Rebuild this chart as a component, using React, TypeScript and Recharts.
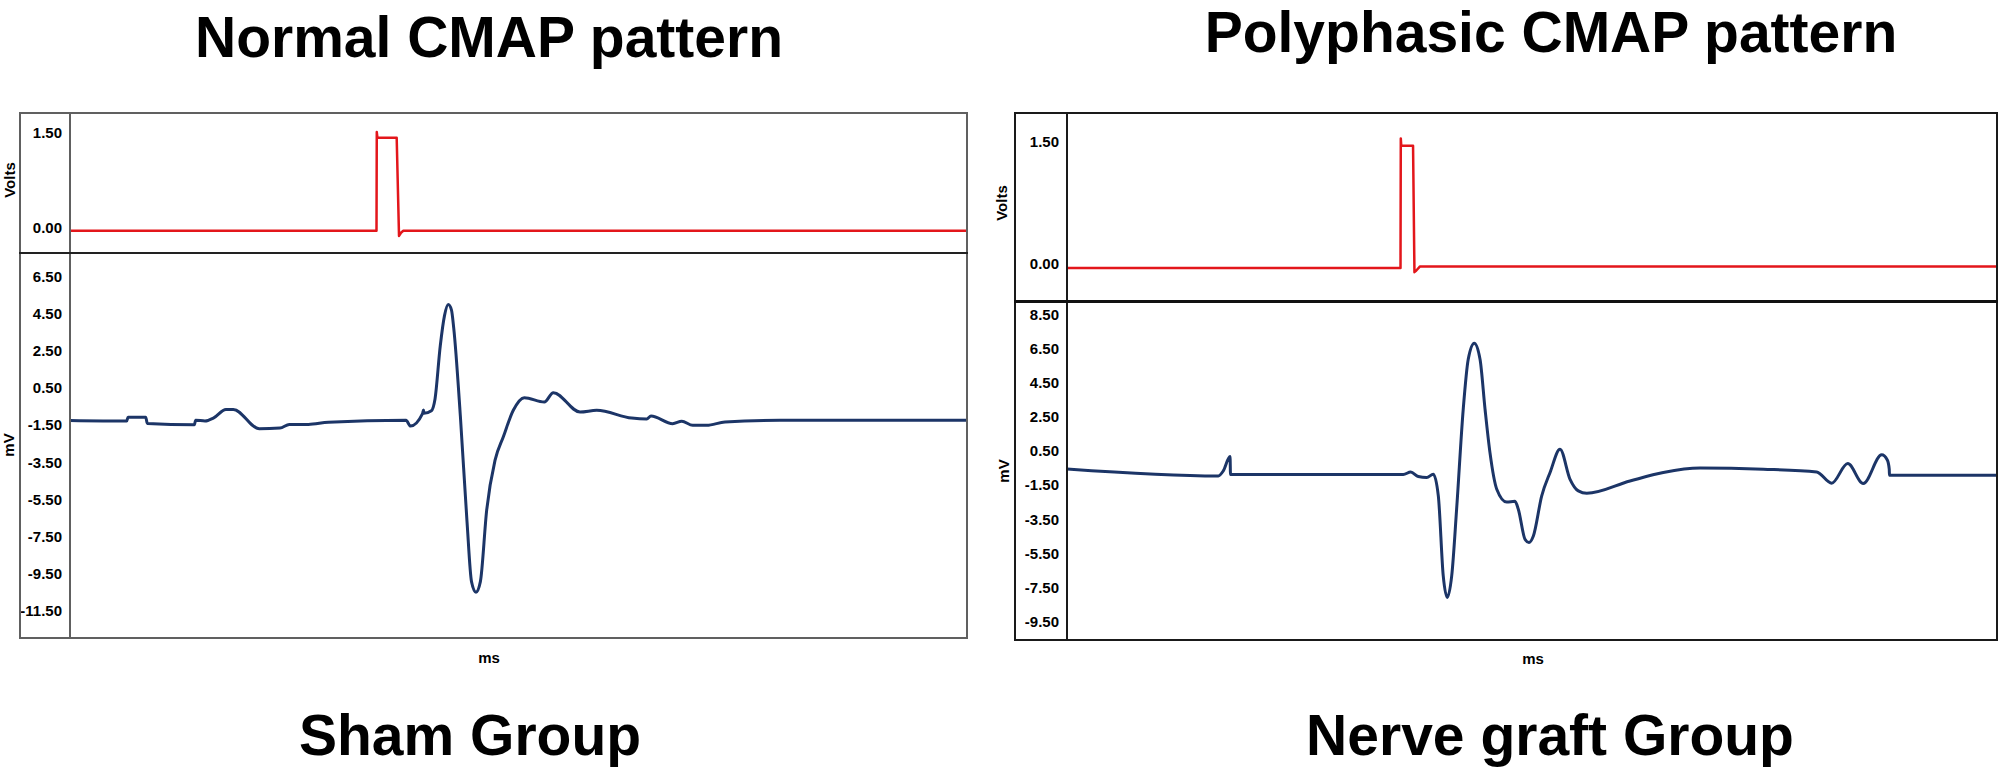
import React from 'react';
import { LineChart, Line, XAxis, YAxis, Label } from 'recharts';

const FONT = '"Liberation Sans", Arial, Helvetica, sans-serif';
const RED = '#e3161b';
const BLUE = '#1c3567';

// ---------- Sham group (Normal CMAP pattern) ----------
const shamStimTime = [0, 34.17, 34.2, 34.27, 36.42, 36.68, 36.9, 37.16, 100];
const shamStimVolts = [-0.05, -0.05, 1.51, 1.42, 1.42, -0.13, -0.08, -0.05, -0.05];

const shamCmapTime = [
  0, 6.32, 6.47, 8.44, 8.62, 13.86, 14.01, 15.05, 15.98, 17.39, 18.2, 21.1, 23.41, 24.45,
  26.57, 28.8, 37.46, 37.96, 39.3, 39.41, 39.46, 40.29, 40.69, 41.28, 41.75, 42.17, 42.53,
  42.78, 43.52, 44.26, 44.76, 45.26, 45.75, 46.45, 47.38, 48.3, 49.42, 50.65, 52.88, 53.88,
  56.86, 58.72, 62.62, 64.29, 64.77, 67.19, 68.2, 69.42, 70.98, 73.02, 79.15, 100,
];
const shamCmapMv = [
  -1.25, -1.28, -1.07, -1.07, -1.41, -1.48, -1.23, -1.28, -1.12, -0.65, -0.65, -1.69, -1.66, -1.46,
  -1.46, -1.34, -1.24, -1.55, -0.88, -0.68, -0.86, -0.72, -0.1, 2.78, 4.4, 5.0, 4.7,
  3.73, -1.02, -6.7, -9.93, -10.5, -9.93, -6.09, -3.4, -2.14, -0.7, -0.02, -0.25, 0.25,
  -0.79, -0.7, -1.12, -1.17, -1.01, -1.42, -1.29, -1.51, -1.51, -1.33, -1.24, -1.24,
];
const shamVoltTicks = [0, 1.5];
const shamMvTicks = [6.5, 4.5, 2.5, 0.5, -1.5, -3.5, -5.5, -7.5, -9.5, -11.5];

// ---------- Nerve graft group (Polyphasic CMAP pattern) ----------
const graftStimTime = [0, 35.9, 35.93, 35.98, 37.25, 37.4, 37.6, 38.0, 100];
const graftStimVolts = [-0.05, -0.05, 1.54, 1.45, 1.45, -0.1, -0.08, -0.03, -0.03];

const graftCmapTime = [
  0, 16.29, 16.82, 17.55, 17.6, 36.2, 37.0, 37.81, 38.72, 39.43, 39.97, 40.5, 40.93, 41.41,
  41.94, 42.65, 43.19, 43.84, 44.46, 45.0, 45.53, 46.26, 47.33, 48.22, 48.58, 49.3, 49.73,
  50.2, 51.1, 52.0, 53.07, 54.15, 55.04, 55.95, 60.6, 64.19, 68.14, 74.95, 80.7, 82.31,
  84.04, 85.71, 87.7, 88.3, 88.51, 88.53, 100,
];
const graftCmapMv = [
  -0.55, -0.96, -0.67, 0.17, -0.88, -0.88, -0.73, -1.0, -1.06, -0.86, -2.13, -6.82, -8.08, -6.82,
  -2.91, 2.94, 5.87, 6.81, 5.87, 2.94, 0.4, -1.74, -2.49, -2.45, -2.91, -4.67, -4.86,
  -4.48, -2.13, -0.76, 0.6, -1.16, -1.84, -1.98, -1.26, -0.76, -0.5, -0.57, -0.73, -1.39,
  -0.24, -1.41, 0.27, -0.03, -0.57, -0.92, -0.92,
];
const graftVoltTicks = [0, 1.5];
const graftMvTicks = [8.5, 6.5, 4.5, 2.5, 0.5, -1.5, -3.5, -5.5, -7.5, -9.5];

// ---------- Titles ----------
const panelTitles = ['Normal CMAP pattern', 'Polyphasic CMAP pattern'];
const groupTitles = ['Sham Group', 'Nerve graft Group'];

const zip = (t: number[], v: number[]) => t.map((x, i) => ({ t: x, v: v[i] }));

type TraceProps = {
  left: number;
  top: number;
  width: number;
  plotHeight: number;
  axisWidth: number;
  data: { t: number; v: number }[];
  color: string;
  strokeWidth: number;
  curve: 'linear' | 'monotone';
  domain: [number, number];
  ticks: number[];
  axisColor: string;
  yLabel: string;
  yLabelPos: [number, number];
  xLabel?: string;
  xLabelPos?: [number, number];
};

function Trace(p: TraceProps) {
  const xAxisH = p.xLabel ? 40 : 0;
  const height = p.plotHeight + xAxisH;
  const tickStyle = { fontSize: 15, fontWeight: 700, fill: '#000', fontFamily: FONT };
  return (
    <div style={{ position: 'absolute', left: p.left, top: p.top, width: p.width, height }}>
      <LineChart width={p.width} height={height} data={p.data} margin={{ top: 0, right: 0, bottom: 0, left: 0 }}>
        <XAxis
          type="number"
          dataKey="t"
          domain={[0, 100]}
          allowDataOverflow
          hide={!p.xLabel}
          height={xAxisH}
          tick={false}
          tickLine={false}
          axisLine={false}
        >
          {p.xLabel && (
            <Label
              content={() => (
                <text
                  x={p.xLabelPos![0]}
                  y={p.xLabelPos![1]}
                  textAnchor="middle"
                  dominantBaseline="central"
                  style={{ fontSize: 15, fontWeight: 700, fontFamily: FONT, fill: '#000' }}
                >
                  {p.xLabel}
                </text>
              )}
            />
          )}
        </XAxis>
        <YAxis
          type="number"
          domain={p.domain}
          allowDataOverflow
          ticks={p.ticks}
          interval={0}
          width={p.axisWidth}
          axisLine={{ stroke: p.axisColor, strokeWidth: 2 }}
          tickLine={false}
          tickSize={0}
          tickMargin={8}
          tick={tickStyle}
          tickFormatter={(v: number) => v.toFixed(2)}
        >
          <Label
            content={() => (
              <text
                x={p.yLabelPos[0]}
                y={p.yLabelPos[1]}
                textAnchor="middle"
                dominantBaseline="central"
                transform={`rotate(-90 ${p.yLabelPos[0]} ${p.yLabelPos[1]})`}
                style={{ fontSize: 15, fontWeight: 700, fontFamily: FONT, fill: '#000' }}
              >
                {p.yLabel}
              </text>
            )}
          />
        </YAxis>
        <Line
          dataKey="v"
          type={p.curve}
          stroke={p.color}
          strokeWidth={p.strokeWidth}
          dot={false}
          activeDot={false}
          isAnimationActive={false}
          strokeLinejoin="round"
        />
      </LineChart>
    </div>
  );
}

function Title({ text, cx, top }: { text: string; cx: number; top: number }) {
  const w = 740;
  return (
    <div
      style={{
        position: 'absolute',
        left: cx - w / 2,
        top,
        width: w,
        height: 45,
        lineHeight: '45px',
        textAlign: 'center',
        fontSize: 57,
        fontWeight: 700,
        fontFamily: FONT,
        color: '#000',
        whiteSpace: 'nowrap',
        pointerEvents: 'none',
      }}
    >
      {text}
    </div>
  );
}

export default function App() {
  return (
    <div style={{ position: 'absolute', left: 0, top: 0, width: 2000, height: 769, background: '#fff', overflow: 'hidden' }}>
      {/* Sham group */}
      <Trace
        left={0}
        top={113}
        width={967}
        plotHeight={140}
        axisWidth={70}
        data={zip(shamStimTime, shamStimVolts)}
        color={RED}
        strokeWidth={2.5}
        curve="linear"
        domain={[-0.4, 1.811]}
        ticks={shamVoltTicks}
        axisColor="#606060"
        yLabel="Volts"
        yLabelPos={[9, 67]}
      />
      <Trace
        left={0}
        top={253}
        width={967}
        plotHeight={385}
        axisWidth={70}
        data={zip(shamCmapTime, shamCmapMv)}
        color={BLUE}
        strokeWidth={3}
        curve="monotone"
        domain={[-12.97, 7.777]}
        ticks={shamMvTicks}
        axisColor="#606060"
        yLabel="mV"
        yLabelPos={[8, 192]}
        xLabel="ms"
        xLabelPos={[489, 404]}
      />
      <div style={{ position: 'absolute', left: 19, top: 112, width: 949, height: 527, border: '2px solid #606060', boxSizing: 'border-box', pointerEvents: 'none' }} />
      <div style={{ position: 'absolute', left: 19, top: 252, width: 949, height: 2, background: '#222', pointerEvents: 'none' }} />

      {/* Nerve graft group */}
      <Trace
        left={990}
        top={113}
        width={1006}
        plotHeight={188}
        axisWidth={77}
        data={zip(graftStimTime, graftStimVolts)}
        color={RED}
        strokeWidth={2.5}
        curve="linear"
        domain={[-0.454, 1.852]}
        ticks={graftVoltTicks}
        axisColor="#1a1a1a"
        yLabel="Volts"
        yLabelPos={[11, 90]}
      />
      <Trace
        left={990}
        top={301}
        width={1006}
        plotHeight={339}
        axisWidth={77}
        data={zip(graftCmapTime, graftCmapMv)}
        color={BLUE}
        strokeWidth={3}
        curve="monotone"
        domain={[-10.57, 9.28]}
        ticks={graftMvTicks}
        axisColor="#1a1a1a"
        yLabel="mV"
        yLabelPos={[13, 170]}
        xLabel="ms"
        xLabelPos={[543, 357]}
      />
      <div style={{ position: 'absolute', left: 1014, top: 112, width: 984, height: 529, border: '2px solid #1a1a1a', boxSizing: 'border-box', pointerEvents: 'none' }} />
      <div style={{ position: 'absolute', left: 1014, top: 300, width: 984, height: 3, background: '#111', pointerEvents: 'none' }} />

      {/* Titles */}
      <Title text={panelTitles[0]} cx={489} top={15} />
      <Title text={panelTitles[1]} cx={1551} top={10} />
      <Title text={groupTitles[0]} cx={470} top={713} />
      <Title text={groupTitles[1]} cx={1550} top={713} />
    </div>
  );
}
